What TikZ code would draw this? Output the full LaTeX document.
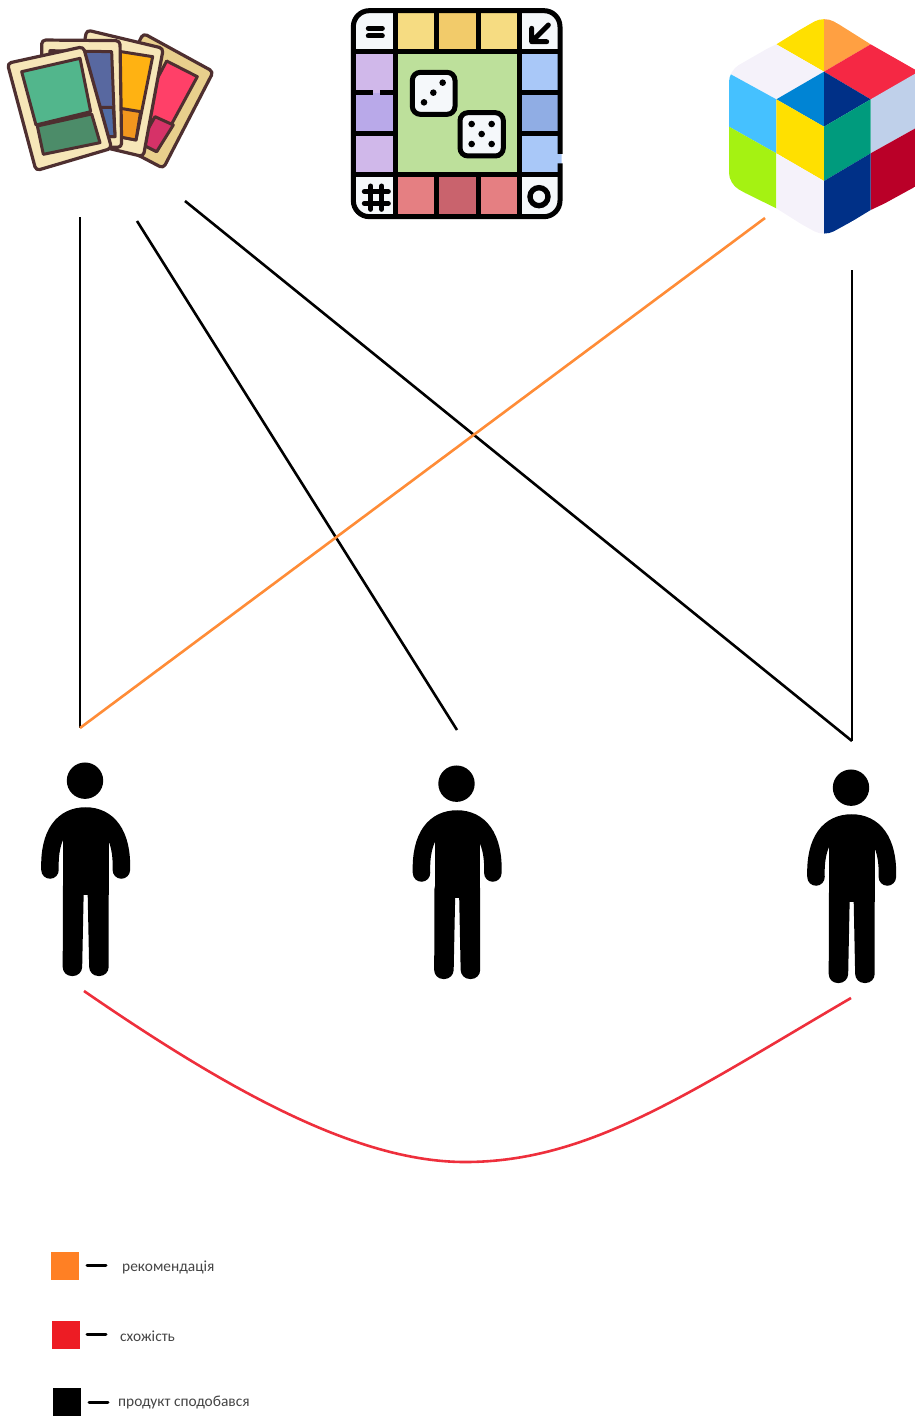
\documentclass[tikz,border=0pt]{standalone}
\usepackage{fontspec}
\setmainfont{Carlito}
\definecolor{cardline}{HTML}{4E2F30}
\definecolor{cream}{HTML}{F6E6B8}
\definecolor{creamdk}{HTML}{E8CF8C}
\definecolor{orangeline}{HTML}{FF8C37}
\definecolor{redline}{HTML}{EE2F3C}
\definecolor{legendtext}{HTML}{444444}
\definecolor{legorange}{HTML}{FF8024}
\definecolor{legred}{HTML}{ED1C24}
\definecolor{cpink}{RGB}{255,64,104}
\definecolor{cpinkd}{RGB}{214,50,104}
\definecolor{cyel}{RGB}{255,178,18}
\definecolor{cyeld}{RGB}{242,150,30}
\definecolor{cblue}{RGB}{88,104,160}
\definecolor{cblued}{RGB}{80,108,165}
\definecolor{cgreen}{RGB}{82,182,140}
\definecolor{cgreend}{RGB}{76,140,105}
\definecolor{bwhite}{RGB}{245,248,250}
\definecolor{btop}{RGB}{246,220,130}
\definecolor{btopd}{RGB}{242,203,106}
\definecolor{bleft}{RGB}{208,184,234}
\definecolor{bleftd}{RGB}{185,169,233}
\definecolor{bmid}{RGB}{189,224,155}
\definecolor{bright}{RGB}{169,200,248}
\definecolor{brightd}{RGB}{144,173,228}
\definecolor{bbot}{RGB}{229,127,130}
\definecolor{bbotd}{RGB}{201,99,109}
\definecolor{qyel}{RGB}{255,224,0}
\definecolor{qorg}{RGB}{255,160,66}
\definecolor{qwht}{RGB}{245,242,250}
\definecolor{qred}{RGB}{245,40,68}
\definecolor{qpale}{RGB}{191,208,234}
\definecolor{qcrim}{RGB}{186,0,40}
\definecolor{qblue}{RGB}{0,132,212}
\definecolor{qnavy}{RGB}{0,48,135}
\definecolor{qsky}{RGB}{69,193,255}
\definecolor{qgrn}{RGB}{0,155,125}
\definecolor{qlime}{RGB}{165,242,18}
\tikzset{
  cardframe/.style={draw=cardline,line width=3.2pt,rounded corners=4pt,line join=round},
  cardpanel/.style={draw=cardline,line width=3pt,line join=round},
  boardline/.style={draw=black,line width=5pt},
  dieface/.style={draw=black,line width=5pt,fill=bwhite,rounded corners=8pt},
  likeline/.style={draw=black,line width=2.6pt},
  recline/.style={draw=orangeline,line width=2.6pt},
  simline/.style={draw=redline,line width=2.6pt},
  legendsq/.style={minimum width=28pt,minimum height=28pt,inner sep=0pt,outer sep=0pt,fill=#1},
  legenddash/.style={draw=black,line width=3pt,line cap=round},
  legendlabel/.style={anchor=west,inner sep=0pt,text=legendtext,font=\fontsize{15.4}{16}\selectfont},
}
\newcommand{\personfig}[1]{%
  \begin{scope}[shift={(#1)},x=0.33333pt,y=-0.33333pt]
    \fill[black] (195,92) circle (18.2pt);
    \draw[black,line width=17.5pt,line cap=round] (90,360) .. controls (86,250) and (130,198) .. (197,198) .. controls (262,198) and (308,250) .. (304,360);
    \fill[black] (129,200) rectangle (266,436);
    \fill[black,rounded corners=9pt] (129,380) -- (128,678) -- (186,678) -- (192,380) -- cycle;
    \fill[black,rounded corners=9pt] (202,380) -- (208,678) -- (266,678) -- (266,380) -- cycle;
  \end{scope}}
\begin{document}
\begin{tikzpicture}[x=1pt,y=-1pt]
\useasboundingbox (0,0) rectangle (914,1416);
% --- cards
\begin{scope}[x=0.33333pt,y=-0.33333pt]
  \path[cardframe,fill=creamdk] (430,100) -- (640,215) -- (490,505) -- (280,395) -- cycle;
  \path[cardpanel,fill=cpink] (500,183) -- (592,230) -- (470,455) -- (380,408) -- cycle;
  \path[cardpanel,fill=cpinkd] (465,350) -- (520,375) -- (470,455) -- (420,430) -- cycle;
  \path[cardframe,fill=cream] (260,90) -- (490,145) -- (430,470) -- (200,415) -- cycle;
  \path[cardpanel,fill=cyel] (300,145) -- (458,170) -- (408,420) -- (250,390) -- cycle;
  \path[cardpanel,fill=cyeld] (300,315) -- (422,335) -- (408,420) -- (250,390) -- cycle;
  \path[cardframe,fill=cream] (125,120) -- (360,122) -- (365,442) -- (125,442) -- cycle;
  \path[cardpanel,fill=cblue] (150,152) -- (335,155) -- (345,410) -- (150,410) -- cycle;
  \path[cardpanel,fill=cblued] (150,322) -- (340,322) -- (345,410) -- (150,410) -- cycle;
  \path[cardframe,fill=cream] (22,190) -- (250,140) -- (335,445) -- (108,512) -- cycle;
  \path[cardpanel,fill=cgreen] (65,215) -- (240,175) -- (272,335) -- (108,375) -- cycle;
  \path[cardpanel,fill=cgreend] (112,378) -- (275,342) -- (300,428) -- (130,463) -- cycle;
\end{scope}
% --- board
\begin{scope}[shift={(340,0)},x=0.33333pt,y=-0.33333pt]
  \begin{scope}
    \clip[rounded corners=16pt] (35,25) rectangle (665,655);
    \fill[bwhite] (35,25) rectangle (167,155);
    \fill[bwhite] (537,25) rectangle (665,155);
    \fill[bwhite] (35,525) rectangle (167,655);
    \fill[bwhite] (537,525) rectangle (665,655);
    \fill[btop] (167,25) rectangle (290,155);
    \fill[btopd] (290,25) rectangle (415,155);
    \fill[btop] (415,25) rectangle (537,155);
    \fill[bleft] (35,155) rectangle (167,278);
    \fill[bleftd] (35,278) rectangle (167,400);
    \fill[bleft] (35,400) rectangle (167,525);
    \fill[bmid] (167,155) rectangle (537,525);
    \fill[bright] (537,155) rectangle (665,278);
    \fill[brightd] (537,278) rectangle (665,400);
    \fill[bright] (537,400) rectangle (665,525);
    \fill[bbot] (167,525) rectangle (290,655);
    \fill[bbotd] (290,525) rectangle (415,655);
    \fill[bbot] (415,525) rectangle (537,655);
  \end{scope}
  \draw[boardline,rounded corners=16pt] (660,462) -- (660,32) -- (40,32) -- (40,650) -- (660,650) -- (660,490);
  \draw[boardline] (167,32) -- (167,650) (537,32) -- (537,650) (40,155) -- (660,155) (40,525) -- (660,525);
  \draw[boardline] (290,32) -- (290,155) (415,32) -- (415,155) (290,525) -- (290,650) (415,525) -- (415,650);
  \draw[boardline] (40,278) -- (100,278) (120,278) -- (167,278) (537,278) -- (660,278) (40,400) -- (167,400) (537,400) -- (660,400);
  \path[dieface] (217,217) rectangle (345,343);
  \path[dieface] (360,338) rectangle (490,468);
  \fill (252,307) circle (3.3pt) (280,278) circle (3.3pt) (308,248) circle (3.3pt);
  \fill (395,372) circle (3.3pt) (455,372) circle (3.3pt) (425,402) circle (3.3pt) (395,432) circle (3.3pt) (455,432) circle (3.3pt);
  \draw[black,line width=5pt,line cap=round] (85,85) -- (127,85) (85,108) -- (127,108);
  \draw[black,line width=5pt,line cap=round,line join=round] (575,85) -- (575,125) -- (620,125) (575,125) -- (625,75);
  \draw[black,line width=5pt,line cap=round] (92,558) -- (92,628) (125,558) -- (125,628) (73,575) -- (145,575) (73,610) -- (145,610);
  \draw[black,line width=5.4pt] (597,590) circle (9pt);
\end{scope}
% --- cube
\begin{scope}[shift={(714,10)},x=0.33333pt,y=-0.33333pt]
  \clip[rounded corners=11pt] (330,18) -- (640,192) -- (640,510) -- (330,680) -- (45,522) -- (45,182) -- cycle;
  \fill[qyel] (187,103) -- (330,15) -- (330,185) -- cycle;
  \fill[qorg] (330,15) -- (470,103) -- (330,185) -- cycle;
  \fill[qwht] (187,103) -- (330,185) -- (187,268) -- (45,190) -- (45,170) -- cycle;
  \fill[qred] (470,103) -- (640,200) -- (470,268) -- (330,185) -- cycle;
  \fill[qpale] (470,268) -- (640,170) -- (640,335) -- (470,430) -- cycle;
  \fill[qcrim] (470,430) -- (640,335) -- (640,520) -- (470,600) -- cycle;
  \fill[qblue] (330,185) -- (187,268) -- (330,350) -- cycle;
  \fill[qnavy] (330,185) -- (470,268) -- (330,350) -- cycle;
  \fill[qsky] (45,190) -- (187,268) -- (187,430) -- (45,350) -- cycle;
  \fill[qyel] (187,268) -- (330,350) -- (330,513) -- (187,430) -- cycle;
  \fill[qgrn] (330,350) -- (470,268) -- (470,430) -- (330,513) -- cycle;
  \fill[qlime] (45,350) -- (187,430) -- (187,595) -- (45,525) -- cycle;
  \fill[qwht] (187,430) -- (330,513) -- (330,685) -- (187,595) -- cycle;
  \fill[qnavy] (330,513) -- (470,430) -- (470,600) -- (330,685) -- cycle;
\end{scope}
% --- people
\personfig{20,750}
\personfig{391.5,753}
\personfig{786,757}
% --- connector ends
\coordinate (cardsA) at (80,217);
\coordinate (cardsB) at (137,221);
\coordinate (cardsC) at (185,201);
\coordinate (cubeA) at (765,218);
\coordinate (cubeB) at (852,270);
\coordinate (userA) at (80,728);
\coordinate (userB) at (457,730);
\coordinate (userC) at (852,741);
\coordinate (userAfoot) at (84,991);
\coordinate (curveLow) at (465,1162);
\coordinate (userCfoot) at (851,998);
\draw[likeline] (cardsA) -- (userA);
\draw[likeline] (cardsB) -- (userB);
\draw[likeline] (cardsC) -- (userC);
\draw[likeline] (cubeB) -- (userC);
\draw[recline] (cubeA) -- (userA);
\draw[simline] (userAfoot) .. controls (235,1095) and (360,1162) .. (curveLow) .. controls (590,1162) and (690,1092) .. (userCfoot);
% --- legend
\node[legendsq=legorange] (sqA) at (65,1265.5) {};
\node[legendsq=legred] (sqB) at (65.5,1335) {};
\node[legendsq=black] (sqC) at (67,1402) {};
\coordinate (dashAa) at (87,1265);
\coordinate (dashAb) at (106,1265);
\coordinate (dashBa) at (87,1334);
\coordinate (dashBb) at (106,1334);
\coordinate (dashCa) at (89,1402);
\coordinate (dashCb) at (108,1402);
\draw[legenddash] (dashAa) -- (dashAb);
\draw[legenddash] (dashBa) -- (dashBb);
\draw[legenddash] (dashCa) -- (dashCb);
\node[legendlabel] (labA) at (122,1267) {рекомендація};
\node[legendlabel] (labB) at (120,1336) {схожість};
\node[legendlabel] (labC) at (118,1403) {продукт сподобався};
\end{tikzpicture}
\end{document}
